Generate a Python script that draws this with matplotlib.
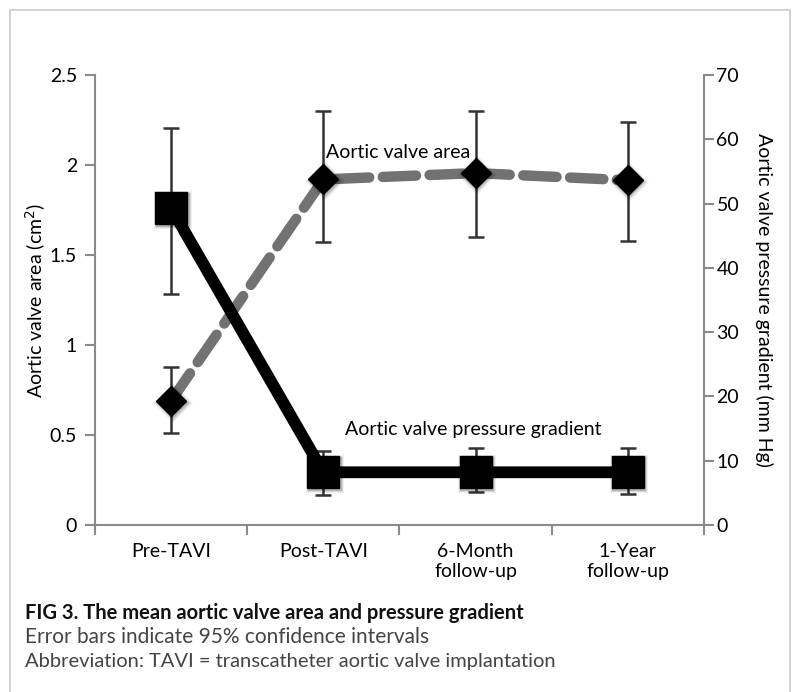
import numpy as np
import matplotlib.pyplot as plt
from matplotlib.patches import Rectangle

plt.rcParams['font.family'] = ['Lato', 'DejaVu Sans']

# Data
stages = ['Pre-TAVI', 'Post-TAVI', '6-Month\nfollow-up', '1-Year\nfollow-up']
area = [0.69, 1.92, 1.955, 1.915]          # cm^2
area_lo = [0.51, 1.57, 1.60, 1.58]
area_hi = [0.88, 2.30, 2.30, 2.24]
grad = [49.3, 8.2, 8.2, 8.2]                # mm Hg
grad_lo = [35.9, 4.7, 5.1, 4.8]
grad_hi = [61.7, 11.5, 12.0, 12.0]

x = np.arange(len(stages))
area = np.array(area)
grad = np.array(grad)
area_err = [area - np.array(area_lo), np.array(area_hi) - area]
grad_err = [grad - np.array(grad_lo), np.array(grad_hi) - grad]

axis_col = '#8a8a8a'
fs = 14

fig = plt.figure(figsize=(8.01, 6.92), dpi=100)
ax = fig.add_axes([95 / 801, 1 - 525 / 692, 609 / 801, 450 / 692])
ax2 = ax.twinx()

# light frame around the whole figure (open at bottom)
fig.patches.append(Rectangle((10 / 801, -0.05), 780 / 801, 1.05 - 10 / 692,
                             transform=fig.transFigure, fill=False,
                             edgecolor='#cccccc', linewidth=1.2))

# aortic valve area (left axis)
ax.errorbar(x, area, yerr=area_err, fmt='none', ecolor='#333333',
            elinewidth=1.8, capsize=6, capthick=1.8, zorder=2)
ax.plot(x, area, color='#727272', linewidth=7.5, linestyle=(0, (3.2, 1.3)),
        dash_capstyle='round', zorder=1)
for ms, al in [(20, 0.06), (18, 0.1), (16.5, 0.15)]:
    ax.plot(x + 0.01, area - 0.01, linestyle='none', marker='D', markersize=ms,
            color='#000000', alpha=al, markeredgewidth=0, zorder=3)
ax.plot(x, area, linestyle='none', marker='D', markersize=15,
        color='black', zorder=4)

# pressure gradient (right axis)
ax2.errorbar(x, grad, yerr=grad_err, fmt='none', ecolor='#333333',
             elinewidth=1.8, capsize=6, capthick=1.8, zorder=1)
ax2.plot(x, grad, color='black', linewidth=8.5, solid_capstyle='butt', zorder=2)
for ms, al in [(28, 0.06), (26, 0.1), (24.5, 0.15)]:
    ax2.plot(x + 0.01, grad - 0.3, linestyle='none', marker='s', markersize=ms,
             color='#000000', alpha=al, markeredgewidth=0, zorder=3)
ax2.plot(x, grad, linestyle='none', marker='s', markersize=23,
         color='black', zorder=4)

ax.set_xlim(-0.5, 3.5)
ax.set_ylim(0, 2.5)
ax2.set_ylim(0, 70)

ax.set_yticks([0, 0.5, 1, 1.5, 2, 2.5])
ax.set_yticklabels(['0', '0.5', '1', '1.5', '2', '2.5'])
ax2.set_yticks(np.arange(0, 71, 10))
ax.set_xticks(x)
ax.set_xticklabels(stages)
ax.set_xticks(np.arange(-0.5, 3.6, 1), minor=True)

for a in (ax, ax2):
    a.spines['top'].set_visible(False)
    for s in ('left', 'right', 'bottom'):
        a.spines[s].set_color(axis_col)
        a.spines[s].set_linewidth(1.5)
    a.patch.set_visible(False)

ax.spines['right'].set_visible(False)
ax2.spines['left'].set_visible(False)
ax2.spines['bottom'].set_visible(False)

ax.tick_params(axis='y', length=7, width=1.5, color=axis_col, labelsize=fs,
               pad=6)
ax2.tick_params(axis='y', length=7, width=1.5, color=axis_col, labelsize=fs,
                pad=2)
ax.tick_params(axis='x', which='major', length=0, labelsize=fs, pad=13)
ax.tick_params(axis='x', which='minor', length=7, width=1.5, color=axis_col)

ax.set_ylabel('Aortic valve area (cm$^2$)', fontsize=fs, labelpad=1)
ax2.set_ylabel('Aortic valve pressure gradient (mm Hg)', fontsize=fs,
               rotation=270, labelpad=24)

ax.text(1.02, 2.07, 'Aortic valve area', fontsize=fs, ha='left',
        va='center', zorder=6)
ax2.text(1.14, 14.8, 'Aortic valve pressure gradient', fontsize=fs,
         ha='left', va='center', zorder=6)

fig.text(25 / 801, 1 - 613 / 692,
         'FIG 3. The mean aortic valve area and pressure gradient',
         fontsize=14.5, fontweight='bold', color='#111111', va='center')
fig.text(25 / 801, 1 - 637 / 692,
         'Error bars indicate 95% confidence intervals',
         fontsize=15, color='#444444', va='center')
fig.text(25 / 801, 1 - 661 / 692,
         'Abbreviation: TAVI = transcatheter aortic valve implantation',
         fontsize=14.5, color='#444444', va='center')

fig.savefig('out.png', dpi=100)
